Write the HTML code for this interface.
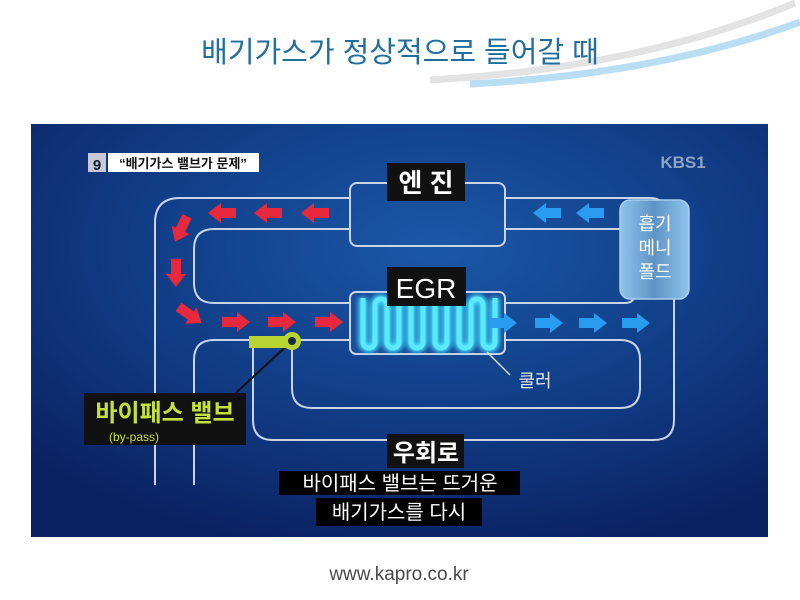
<!DOCTYPE html>
<html><head><meta charset="utf-8"><style>
html,body{margin:0;padding:0;background:#fff;}
body{width:800px;height:600px;overflow:hidden;position:relative;}
svg{position:absolute;left:0;top:0;}
text{font-family:"Liberation Sans","Noto Sans CJK KR",sans-serif;}
</style></head><body>
<svg width="800" height="600" viewBox="0 0 800 600" xmlns="http://www.w3.org/2000/svg">
<defs>
<radialGradient id="bg" cx="0.55" cy="0.3" r="0.75">
<stop offset="0" stop-color="#1a58a6"/><stop offset="0.55" stop-color="#113c86"/><stop offset="1" stop-color="#0b2262"/>
</radialGradient>
<linearGradient id="mf" x1="0" y1="0" x2="1" y2="0">
<stop offset="0" stop-color="#8ec4ee"/><stop offset="0.5" stop-color="#5f93c4"/><stop offset="1" stop-color="#8ec4ee"/>
</linearGradient>
<filter id="glow" x="-20%" y="-20%" width="140%" height="140%"><feGaussianBlur stdDeviation="2.5"/></filter>
<g id="al"><path d="M0,0 L13,-10 L13,-5 L28,-5 L28,5 L13,5 L13,10 Z"/></g>
<g id="ar"><path d="M28,0 L15,-10 L15,-5 L0,-5 L0,5 L15,5 L15,10 Z"/></g>
</defs>
<!-- swoosh -->
<path d="M430,80 Q640,68 795,3" stroke="#dcdcdc" stroke-width="7" fill="none" opacity="0.8"/>
<path d="M470,84 Q660,74 800,22" stroke="#a8d4f0" stroke-width="7" fill="none" opacity="0.8"/>
<text x="400" y="62" text-anchor="middle" font-size="29" fill="#1f6e9e" font-family="'Noto Sans CJK KR',sans-serif">배기가스가 정상적으로 들어갈 때</text>
<!-- photo -->
<rect x="31" y="124" width="737" height="413" fill="url(#bg)"/>
<!-- header -->
<rect x="88" y="153" width="18" height="19" fill="#c8c8d8"/>
<text x="97" y="170" text-anchor="middle" font-size="15" font-weight="bold" fill="#123">9</text>
<rect x="108" y="153" width="151" height="19" fill="#fff"/>
<text x="183" y="168" text-anchor="middle" font-size="13" font-weight="bold" fill="#111">“배기가스 밸브가 문제”</text>
<text x="683" y="168" text-anchor="middle" font-size="17" fill="#8fa4c4" font-weight="bold">KBS1</text>
<!-- pipes -->
<g stroke="#c8d4e8" stroke-width="2" fill="none">
<path d="M155,485 V223 Q155,198 180,198 H350"/>
<path d="M505,198 H650 Q660,198 662,204"/>
<path d="M350,229 H214 Q194,229 194,249 V283 Q194,303 214,303 H350"/>
<path d="M505,229 H620"/>
<path d="M505,303 H625 Q632,303 634,298"/>
<path d="M194,485 V360 Q194,340 214,340 H350"/>
<path d="M505,340 H620 Q640,340 640,360 V388 Q640,408 620,408 H312 Q292,408 292,388 V345"/>
<path d="M253,342 V420 Q253,440 273,440 H654 Q674,440 674,420 V299"/>
</g>
<!-- engine -->
<rect x="350" y="183" width="155" height="63" rx="7" fill="none" stroke="#c8d4e8" stroke-width="2"/>
<rect x="387" y="163" width="78" height="38" fill="#111"/>
<text x="426" y="192" text-anchor="middle" font-size="26" font-weight="bold" fill="#fff">엔 진</text>
<!-- EGR -->
<rect x="350" y="292" width="155" height="62" rx="6" fill="#1a4d9a" stroke="#c8d4e8" stroke-width="2"/>
<path d="M363,298 V342 A6,6 0 0 0 375,342 V305 A6,6 0 0 1 387,305 V342 A6,6 0 0 0 399,342 V305 A6,6 0 0 1 411,305 V342 A6,6 0 0 0 423,342 V305 A6,6 0 0 1 435,305 V342 A6,6 0 0 0 447,342 V305 A6,6 0 0 1 459,305 V342 A6,6 0 0 0 471,342 V305 A6,6 0 0 1 483,305 V342 A6,6 0 0 0 495,342 V298" fill="none" stroke="#40e0ff" stroke-width="9" filter="url(#glow)"/>
<path d="M363,298 V342 A6,6 0 0 0 375,342 V305 A6,6 0 0 1 387,305 V342 A6,6 0 0 0 399,342 V305 A6,6 0 0 1 411,305 V342 A6,6 0 0 0 423,342 V305 A6,6 0 0 1 435,305 V342 A6,6 0 0 0 447,342 V305 A6,6 0 0 1 459,305 V342 A6,6 0 0 0 471,342 V305 A6,6 0 0 1 483,305 V342 A6,6 0 0 0 495,342 V298" fill="none" stroke="#5ce8ff" stroke-width="5"/>
<rect x="387" y="267" width="79" height="39" fill="#111"/>
<text x="426" y="298" text-anchor="middle" font-size="28" fill="#fff">EGR</text>
<!-- manifold -->
<rect x="620" y="200" width="69" height="99" rx="10" fill="url(#mf)" stroke="#a8d0f0" stroke-width="1.5"/>
<text x="655" y="230" text-anchor="middle" font-size="18" fill="#fff">흡기</text>
<text x="655" y="254" text-anchor="middle" font-size="18" fill="#fff">메니</text>
<text x="655" y="278" text-anchor="middle" font-size="18" fill="#fff">폴드</text>
<!-- red arrows -->
<g fill="#e8283c">
<use href="#al" x="208" y="213"/><use href="#al" x="254" y="213"/><use href="#al" x="301" y="213"/>
<use href="#ar" x="222" y="322"/><use href="#ar" x="268" y="322"/><use href="#ar" x="315" y="322"/>
<use href="#ar" transform="translate(181,229) rotate(115) translate(-14,0)"/>
<use href="#ar" transform="translate(176,273) rotate(90) translate(-14,0)"/>
<use href="#ar" transform="translate(190,315) rotate(35) translate(-14,0)"/>
</g>
<g fill="#2a9cf0">
<use href="#al" x="533" y="213"/><use href="#al" x="576" y="213"/>
<use href="#ar" x="489" y="323"/><use href="#ar" x="535" y="323"/><use href="#ar" x="579" y="323"/><use href="#ar" x="622" y="323"/>
</g>
<!-- valve -->
<line x1="292" y1="341" x2="225" y2="403" stroke="#111" stroke-width="2"/>
<rect x="249" y="336" width="42" height="12" fill="#b8d430"/>
<circle cx="292" cy="341" r="9" fill="#b8d430"/>
<circle cx="292" cy="341" r="4" fill="#1a2a3a"/>
<!-- cooler -->
<line x1="487" y1="352" x2="510" y2="375" stroke="#e0e8f0" stroke-width="1.5"/>
<text x="535" y="387" text-anchor="middle" font-size="18" fill="#e0e8f0">쿨러</text>
<!-- bypass label -->
<rect x="84" y="393" width="162" height="52" fill="#111"/>
<text x="165" y="421" text-anchor="middle" font-size="24" font-weight="bold" fill="#c4e03c">바이패스 밸브</text>
<text x="134" y="441" text-anchor="middle" font-size="12" fill="#c4e03c">(by-pass)</text>
<!-- detour -->
<rect x="387" y="434" width="77" height="34" fill="#111"/>
<text x="426" y="461" text-anchor="middle" font-size="24" font-weight="bold" fill="#fff">우회로</text>
<!-- subtitles -->
<rect x="279" y="471" width="241" height="24" fill="#000"/>
<text x="400" y="490" text-anchor="middle" font-size="20" fill="#fff">바이패스 밸브는 뜨거운</text>
<rect x="316" y="498" width="166" height="28" fill="#000"/>
<text x="399" y="519" text-anchor="middle" font-size="20" fill="#fff">배기가스를 다시</text>
<text x="399" y="580" text-anchor="middle" font-size="19" fill="#4a4a4a">www.kapro.co.kr</text>
</svg>
</body></html>
